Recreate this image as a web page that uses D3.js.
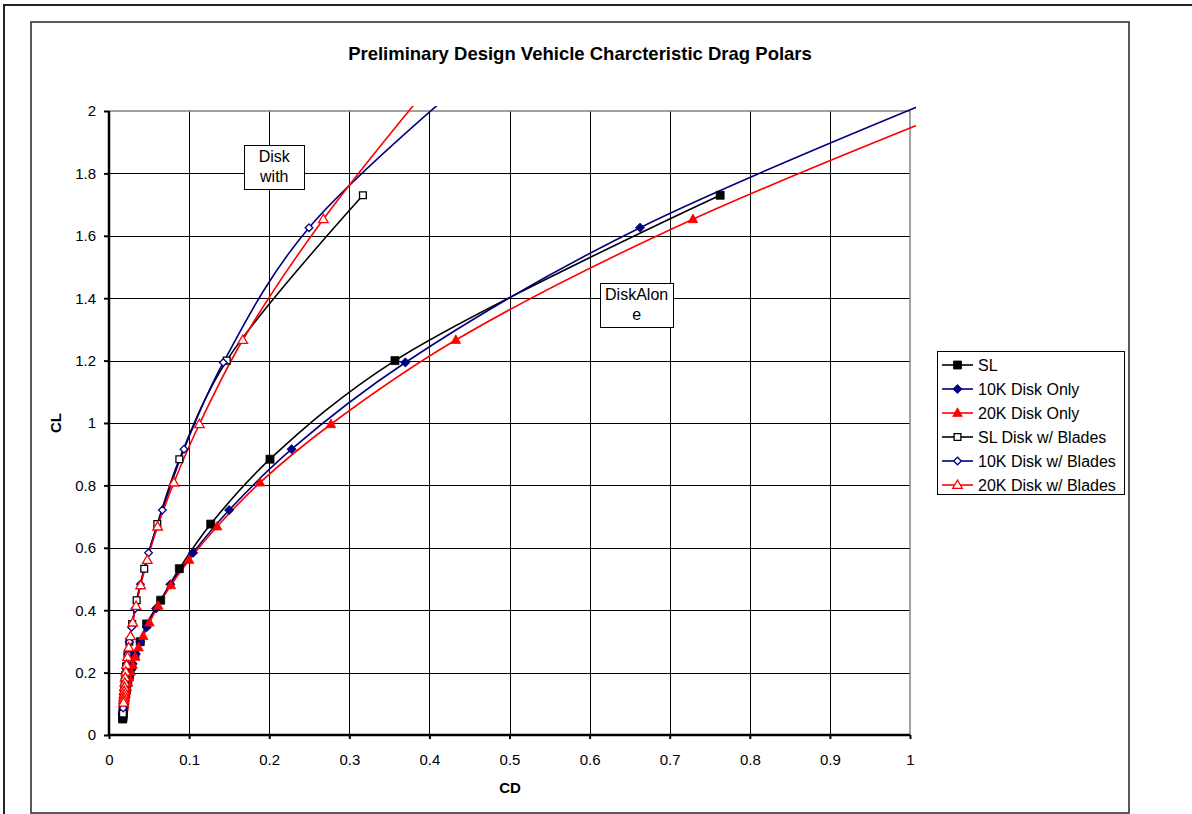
<!DOCTYPE html>
<html>
<head>
<meta charset="utf-8">
<script src="https://cdn.jsdelivr.net/npm/d3@7"></script>
<style>
  html, body { margin: 0; padding: 0; background: #fff; }
  svg { display: block; font-family: Arial, "Liberation Sans", sans-serif; }
</style>
</head>
<body>
<svg id="chart" width="1192" height="814"></svg>
<script>
// ---------------- DATA ----------------
const chartTitle = "Preliminary Design Vehicle Charcteristic Drag Polars";
const xTicks = [0, 0.1, 0.2, 0.3, 0.4, 0.5, 0.6, 0.7, 0.8, 0.9, 1];
const yTicks = [0, 0.2, 0.4, 0.6, 0.8, 1, 1.2, 1.4, 1.6, 1.8, 2];
const seriesNames = ["SL", "10K Disk Only", "20K Disk Only", "SL Disk w/ Blades", "10K Disk w/ Blades", "20K Disk w/ Blades"];

// SL disk only
const slCL = [1.73, 1.2, 0.884, 0.676, 0.533, 0.432, 0.356, 0.299, 0.255, 0.220, 0.1915, 0.168, 0.149, 0.133, 0.1193, 0.1077, 0.0977, 0.089, 0.0814, 0.0748, 0.0689, 0.0637, 0.0591, 0.0549, 0.0512];
const slCD = [0.763, 0.357, 0.201, 0.127, 0.0878, 0.0645, 0.047, 0.039, 0.0324, 0.0284, 0.0255, 0.0234, 0.0219, 0.0208, 0.0200, 0.0193, 0.0188, 0.0184, 0.0181, 0.0179, 0.0177, 0.0175, 0.0174, 0.0172, 0.0171];

// 10K disk only
const k10CL = [2.345, 1.626, 1.194, 0.916, 0.721, 0.584, 0.483, 0.4057, 0.3456, 0.298, 0.2595, 0.228, 0.202, 0.180, 0.1617, 0.1459, 0.1323, 0.1206, 0.1103, 0.1013, 0.0933, 0.0863, 0.0800, 0.0744, 0.0694, 0.0648];
const k10CD = [1.33, 0.663, 0.370, 0.228, 0.150, 0.105, 0.0767, 0.0588, 0.0471, 0.0391, 0.0335, 0.0295, 0.0266, 0.0244, 0.0228, 0.0215, 0.0206, 0.0198, 0.0192, 0.0187, 0.0183, 0.0179, 0.0177, 0.0174, 0.0173, 0.0171];

// 20K disk only
const k20CL = [2.25, 1.653, 1.266, 0.996, 0.809, 0.668, 0.561, 0.4796, 0.4136, 0.3603, 0.3167, 0.2805, 0.2503, 0.2246, 0.2027, 0.1839, 0.1676, 0.1533, 0.1408, 0.1298, 0.1200, 0.1113, 0.1035, 0.0964, 0.0901];
const k20CD = [1.30, 0.729, 0.433, 0.277, 0.1885, 0.135, 0.100, 0.0772, 0.0615, 0.0505, 0.0427, 0.0369, 0.0327, 0.0294, 0.0269, 0.0250, 0.0235, 0.0223, 0.0213, 0.0205, 0.0198, 0.0193, 0.0188, 0.0185, 0.0182];

// SL disk w/ blades
const slbCL = [1.73, 1.2, 0.884, 0.676, 0.533, 0.432, 0.356, 0.299, 0.255, 0.220, 0.1915, 0.168, 0.149, 0.133, 0.1193, 0.1077, 0.0977, 0.089, 0.0814, 0.0748, 0.0689];
const slbCD = [0.317, 0.147, 0.0878, 0.0603, 0.044, 0.0345, 0.0289, 0.0254, 0.0231, 0.0215, 0.0204, 0.0197, 0.0191, 0.0187, 0.0183, 0.0181, 0.0179, 0.0177, 0.0176, 0.0175, 0.0174];

// 10K disk w/ blades
const k10bCL = [2.345, 1.626, 1.194, 0.916, 0.721, 0.584, 0.483, 0.4057, 0.3456, 0.298, 0.2595, 0.228, 0.202, 0.180, 0.1617, 0.1459, 0.1323, 0.1206, 0.1103, 0.1013, 0.0933, 0.0863];
const k10bCD = [0.56, 0.2497, 0.1427, 0.0936, 0.0666, 0.0494, 0.0392, 0.0326, 0.0283, 0.0254, 0.0234, 0.0219, 0.0209, 0.0201, 0.0195, 0.0190, 0.0187, 0.0184, 0.0182, 0.0180, 0.0178, 0.0177];

// 20K disk w/ blades
const k20bCL = [2.25, 1.653, 1.266, 0.996, 0.809, 0.668, 0.561, 0.4796, 0.4136, 0.3603, 0.3167, 0.2805, 0.2503, 0.2246, 0.2027, 0.1839, 0.1676, 0.1533, 0.1408, 0.1298, 0.1200, 0.1113, 0.1035];
const k20bCD = [0.455, 0.2676, 0.167, 0.1128, 0.081, 0.0607, 0.0478, 0.0395, 0.0338, 0.0297, 0.0268, 0.0247, 0.0231, 0.0219, 0.0210, 0.0203, 0.0198, 0.0193, 0.0189, 0.0187, 0.0184, 0.0182, 0.0181];

const annotations = [
  { lines: ["Disk", "with"], cd: 0.2063, cl: 1.822, w: 60 },
  { lines: ["DiskAlon", "e"], cd: 0.6587, cl: 1.378, w: 73 }
];

// ---------------- STYLE / LAYOUT ----------------
const series = [
  { name: seriesNames[0], cd: slCD,  cl: slCL,  color: "#000000", marker: "square",   filled: true },
  { name: seriesNames[1], cd: k10CD, cl: k10CL, color: "#000080", marker: "diamond",  filled: true },
  { name: seriesNames[2], cd: k20CD, cl: k20CL, color: "#FF0000", marker: "triangle", filled: true },
  { name: seriesNames[3], cd: slbCD, cl: slbCL, color: "#000000", marker: "square",   filled: false },
  { name: seriesNames[4], cd: k10bCD, cl: k10bCL, color: "#000080", marker: "diamond", filled: false },
  { name: seriesNames[5], cd: k20bCD, cl: k20bCL, color: "#FF0000", marker: "triangle", filled: false }
];

const svg = d3.select("#chart");
const W = 1192, H = 814;
const plot = { left: 109, right: 910, top: 111, bottom: 735 };

const x = d3.scaleLinear().domain([0, 1]).range([plot.left, plot.right]);
const y = d3.scaleLinear().domain([0, 2]).range([plot.bottom, plot.top]);

// outer frames
svg.append("rect").attr("x", 4).attr("y", 5).attr("width", W + 20).attr("height", H + 20)
  .attr("fill", "#fff").attr("stroke", "#222").attr("stroke-width", 2);
svg.append("rect").attr("x", 31).attr("y", 22).attr("width", 1098).attr("height", 791)
  .attr("fill", "#fff").attr("stroke", "#333").attr("stroke-width", 1.6);

// title
svg.append("text").attr("x", 580).attr("y", 60).attr("text-anchor", "middle")
  .attr("font-size", 18.5).attr("font-weight", "bold").text(chartTitle);

// gridlines
const grid = svg.append("g");
grid.selectAll("line.v").data(xTicks.slice(1, -1)).enter().append("line")
  .attr("x1", d => Math.round(x(d)) + 0.5).attr("x2", d => Math.round(x(d)) + 0.5)
  .attr("y1", plot.top).attr("y2", plot.bottom).attr("stroke", "#000").attr("stroke-width", 1);
grid.selectAll("line.h").data(yTicks.slice(1, -1)).enter().append("line")
  .attr("y1", d => Math.round(y(d)) + 0.5).attr("y2", d => Math.round(y(d)) + 0.5)
  .attr("x1", plot.left).attr("x2", plot.right).attr("stroke", "#000").attr("stroke-width", 1);
// top and right plot border (gray)
svg.append("line").attr("x1", plot.left).attr("x2", plot.right + 0.5).attr("y1", plot.top).attr("y2", plot.top)
  .attr("stroke", "#808080").attr("stroke-width", 1.5);
svg.append("line").attr("x1", plot.right).attr("x2", plot.right).attr("y1", plot.top).attr("y2", plot.bottom)
  .attr("stroke", "#808080").attr("stroke-width", 1.5);

// axes
const xAxis = d3.axisBottom(x).tickValues(xTicks).tickSize(4).tickPadding(15).tickFormat(d => d3.format("~g")(d));
const yAxis = d3.axisLeft(y).tickValues(yTicks).tickSize(5).tickPadding(8).tickFormat(d => d3.format("~g")(d));

const gx = svg.append("g").attr("transform", `translate(0,${plot.bottom})`).call(xAxis);
const gy = svg.append("g").attr("transform", `translate(${plot.left},0)`).call(yAxis);
[gx, gy].forEach(g => {
  g.select(".domain").attr("stroke", "#000").attr("stroke-width", 2.5);
  g.selectAll(".tick line").attr("stroke", "#000").attr("stroke-width", 2);
  g.selectAll(".tick text").attr("font-size", 15).attr("fill", "#000")
    .attr("font-family", "Arial, 'Liberation Sans', sans-serif");
});
gy.select(".domain").attr("d", `M0,${plot.bottom}V${plot.top}`);
gx.select(".domain").attr("d", `M${plot.left},0H${plot.right}`);

// axis titles
svg.append("text").attr("x", 510).attr("y", 793).attr("text-anchor", "middle")
  .attr("font-size", 15).attr("font-weight", "bold").text("CD");
svg.append("text").attr("transform", "translate(61,423) rotate(-90)").attr("text-anchor", "middle")
  .attr("font-size", 15).attr("font-weight", "bold").text("CL");

// clip
svg.append("defs").append("clipPath").attr("id", "clip").append("rect")
  .attr("x", plot.left - 6).attr("y", plot.top - 5)
  .attr("width", plot.right - plot.left + 12).attr("height", plot.bottom - plot.top + 10);

const line = d3.line().x(d => x(d[0])).y(d => y(d[1])).curve(d3.curveCatmullRom.alpha(0.5));

function markerPath(type, filled) {
  if (type === "square") return filled ? d3.symbol(d3.symbolSquare, 64)() : d3.symbol(d3.symbolSquare, 46)();
  if (type === "diamond") return filled ? "M0,-4.6L4.6,0L0,4.6L-4.6,0Z" : "M0,-3.8L3.8,0L0,3.8L-3.8,0Z";
  return filled ? "M0,-5.2L4.8,3.4L-4.8,3.4Z" : "M0,-5L4.8,3.4L-4.8,3.4Z";
}

const dataG = svg.append("g").attr("clip-path", "url(#clip)");
series.forEach(s => {
  const pts = s.cd.map((c, i) => [c, s.cl[i]]);
  dataG.append("path").datum(pts).attr("d", line)
    .attr("fill", "none").attr("stroke", s.color).attr("stroke-width", 1.6);
});
series.forEach(s => {
  const pts = s.cd.map((c, i) => [c, s.cl[i]]);
  dataG.append("g").selectAll("path").data(pts).enter().append("path")
    .attr("transform", d => `translate(${x(d[0])},${y(d[1])})`)
    .attr("d", markerPath(s.marker, s.filled))
    .attr("fill", s.filled ? s.color : "#fff")
    .attr("stroke", s.color).attr("stroke-width", s.filled ? 0.8 : 1.3);
});

// annotations
annotations.forEach(a => {
  const cx = x(a.cd), cy = y(a.cl);
  const g = svg.append("g");
  g.append("rect").attr("x", Math.round(cx - a.w / 2) + 0.5).attr("y", Math.round(cy - 22) + 0.5)
    .attr("width", a.w).attr("height", 44).attr("fill", "#fff").attr("stroke", "#000").attr("stroke-width", 1);
  const t = g.append("text").attr("font-size", 16).attr("text-anchor", "middle");
  a.lines.forEach((l, i) => t.append("tspan").attr("x", cx).attr("y", cy - 5 + i * 20).text(l));
});

// legend
const lg = svg.append("g");
lg.append("rect").attr("x", 937.5).attr("y", 351.5).attr("width", 187).attr("height", 143)
  .attr("fill", "#fff").attr("stroke", "#000").attr("stroke-width", 1);
series.forEach((s, i) => {
  const ly = 365 + i * 24;
  lg.append("line").attr("x1", 942).attr("x2", 973).attr("y1", ly).attr("y2", ly)
    .attr("stroke", s.color).attr("stroke-width", 1.6);
  lg.append("path").attr("transform", `translate(957.5,${ly})`).attr("d", markerPath(s.marker, s.filled))
    .attr("fill", s.filled ? s.color : "#fff").attr("stroke", s.color).attr("stroke-width", s.filled ? 0.8 : 1.3);
  lg.append("text").attr("x", 978).attr("y", ly + 5.5).attr("font-size", 16).text(s.name);
});
</script>
</body>
</html>
